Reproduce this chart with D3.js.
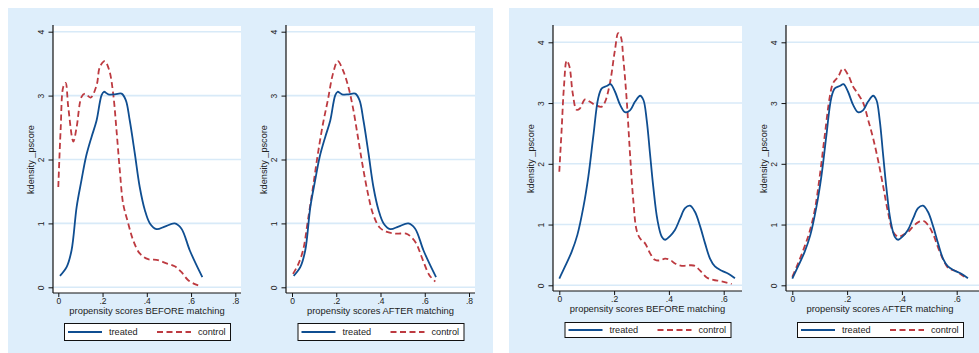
<html><head>
<style>
body { margin: 0; padding: 0; background: white; }
svg { display: block; font-family: 'Liberation Sans', Arial, sans-serif; }
</style>
</head>
<body>
<svg id="chart" width="979" height="353"></svg>
<script src="https://d3js.org/d3.v7.min.js"></script>
<script>
// kernel density of the propensity score
// model A (left panel)
const treatedA = [[0.0075,0.18],[0.038,0.32],[0.06,0.58],[0.083,1.26],[0.105,1.68],[0.125,2.04],[0.15,2.35],[0.173,2.61],[0.195,3.0],[0.206,3.06],[0.226,3.02],[0.256,3.02],[0.286,3.03],[0.305,2.93],[0.323,2.61],[0.346,2.09],[0.368,1.57],[0.391,1.21],[0.414,1.0],[0.444,0.91],[0.481,0.95],[0.526,1.0],[0.556,0.92],[0.594,0.58],[0.624,0.35],[0.651,0.16]];
const controlBeforeA = [[0.0,1.57],[0.0105,2.46],[0.0226,3.14],[0.033,3.2],[0.045,2.82],[0.068,2.28],[0.083,2.51],[0.105,2.98],[0.12,3.03],[0.146,2.97],[0.173,3.16],[0.188,3.45],[0.21,3.54],[0.23,3.4],[0.248,3.03],[0.263,2.46],[0.278,1.83],[0.293,1.31],[0.316,1.0],[0.338,0.74],[0.368,0.53],[0.406,0.44],[0.444,0.43],[0.489,0.375],[0.526,0.33],[0.556,0.24],[0.586,0.115],[0.617,0.05],[0.642,0.02]];
const controlAfterA = [[0.0045,0.21],[0.027,0.35],[0.05,0.58],[0.072,1.05],[0.095,1.57],[0.117,2.09],[0.14,2.56],[0.162,2.93],[0.185,3.34],[0.207,3.54],[0.23,3.4],[0.253,3.16],[0.275,2.82],[0.298,2.35],[0.32,1.89],[0.343,1.47],[0.365,1.16],[0.395,0.94],[0.426,0.87],[0.47,0.84],[0.516,0.84],[0.538,0.79],[0.561,0.69],[0.591,0.43],[0.621,0.19],[0.648,0.09]];
// model B (right panel)
const treatedB = [[0,0.11],[0.021,0.31],[0.045,0.55],[0.066,0.83],[0.088,1.29],[0.106,1.79],[0.124,2.45],[0.142,3.08],[0.155,3.24],[0.173,3.28],[0.187,3.31],[0.203,3.19],[0.222,2.97],[0.24,2.85],[0.258,2.88],[0.276,3.02],[0.295,3.12],[0.307,3.05],[0.319,2.72],[0.331,2.17],[0.343,1.62],[0.358,1.08],[0.374,0.8],[0.386,0.75],[0.404,0.81],[0.422,0.91],[0.441,1.1],[0.459,1.27],[0.477,1.31],[0.495,1.21],[0.514,0.97],[0.532,0.69],[0.55,0.44],[0.568,0.31],[0.593,0.24],[0.617,0.19],[0.641,0.115]];
const controlBeforeB = [[0,1.87],[0.0085,2.56],[0.017,3.27],[0.027,3.7],[0.037,3.6],[0.049,3.16],[0.063,2.89],[0.075,2.91],[0.094,3.06],[0.112,3.02],[0.13,2.97],[0.155,2.94],[0.167,3.02],[0.185,3.33],[0.203,3.87],[0.215,4.15],[0.224,4.1],[0.234,3.71],[0.246,3.05],[0.258,2.17],[0.27,1.4],[0.282,0.91],[0.295,0.77],[0.313,0.69],[0.331,0.53],[0.349,0.42],[0.368,0.41],[0.386,0.44],[0.404,0.42],[0.422,0.36],[0.447,0.32],[0.477,0.33],[0.495,0.32],[0.514,0.24],[0.538,0.13],[0.562,0.09],[0.587,0.07],[0.611,0.044],[0.629,0.022]];
const controlAfterB = [[0,0.14],[0.021,0.36],[0.045,0.64],[0.063,0.88],[0.082,1.24],[0.1,1.79],[0.118,2.45],[0.137,3.11],[0.149,3.33],[0.167,3.43],[0.185,3.57],[0.204,3.46],[0.222,3.27],[0.24,3.15],[0.259,3.0],[0.277,2.72],[0.295,2.42],[0.313,2.06],[0.332,1.62],[0.35,1.19],[0.368,0.88],[0.387,0.8],[0.405,0.83],[0.423,0.88],[0.441,0.97],[0.46,1.04],[0.478,1.06],[0.496,0.99],[0.515,0.83],[0.533,0.61],[0.551,0.42],[0.57,0.28],[0.594,0.24],[0.618,0.17],[0.637,0.115]];

const yTicks = [0, 1, 2, 3, 4];
const yTickLabels = ["0", "1", "2", "3", "4"];
const xTicksA = [0, 0.2, 0.4, 0.6, 0.8];
const xTicksB = [0, 0.2, 0.4, 0.6];
const xTickLabels = ["0", ".2", ".4", ".6", ".8"];
const seriesNames = ["treated", "control"];
const yTitle = "kdensity _pscore";
const xTitles = ["propensity scores BEFORE matching", "propensity scores AFTER matching"];

const blue = "#0f4e91", red = "#bd3a40";
const bg = "#deeefb", grid = "#d8eaf8";

const svg = d3.select("#chart");

// the two graph regions
svg.append("rect").attr("x", 8).attr("y", 8).attr("width", 485).attr("height", 345).attr("fill", bg);
svg.append("rect").attr("x", 509).attr("y", 8).attr("width", 470).attr("height", 345).attr("fill", bg);

// layout of the four plots
const plots = [
  {left: 53, right: 241, top: 26, bottom: 293, x0: 58.3, xu: 221.25, y0: 287.3, yu: 63.9, xt: xTicksA, title: xTitles[0], treated: treatedA, control: controlBeforeA, ly: 323, lh: 17},
  {left: 286, right: 475, top: 26, bottom: 293, x0: 292, xu: 221.25, y0: 287.3, yu: 63.9, xt: xTicksA, title: xTitles[1], treated: treatedA, control: controlAfterA, ly: 323, lh: 17},
  {left: 553, right: 742, top: 26, bottom: 291, x0: 559.3, xu: 274, y0: 285.3, yu: 60.75, xt: xTicksB, title: xTitles[0], treated: treatedB, control: controlBeforeB, ly: 322, lh: 15},
  {left: 786, right: 979, top: 26, bottom: 291, x0: 792.3, xu: 274, y0: 285.3, yu: 60.75, xt: xTicksB, title: xTitles[1], treated: treatedB, control: controlAfterB, ly: 322, lh: 15, cx: 880}
];

plots.forEach(p => {
  const g = svg.append("g");
  const x = d3.scaleLinear().domain([0, 1]).range([p.x0, p.x0 + p.xu]);
  const y = d3.scaleLinear().domain([0, 4]).range([p.y0, p.y0 - 4 * p.yu]);

  g.append("rect").attr("x", p.left).attr("y", p.top)
    .attr("width", p.right - p.left).attr("height", p.bottom - p.top).attr("fill", "white");

  g.selectAll(".grid").data(yTicks).join("line")
    .attr("x1", p.left).attr("x2", p.right)
    .attr("y1", d => y(d)).attr("y2", d => y(d))
    .attr("stroke", grid).attr("stroke-width", 1.6);

  const line = d3.line().x(d => x(d[0])).y(d => y(d[1])).curve(d3.curveCatmullRom.alpha(0.5));
  g.append("path").attr("d", line(p.control)).attr("fill", "none")
    .attr("stroke", red).attr("stroke-width", 1.8).attr("stroke-dasharray", "6,3.5");
  g.append("path").attr("d", line(p.treated)).attr("fill", "none")
    .attr("stroke", blue).attr("stroke-width", 1.8);

  // y axis
  const ya = g.append("g").attr("transform", `translate(${p.left},0)`)
    .call(d3.axisLeft(y).tickValues(yTicks).tickFormat((d, i) => yTickLabels[i]).tickSize(4.5).tickPadding(4));
  ya.select(".domain").attr("d", `M0,${p.top - 1}V${p.bottom}`).attr("stroke", "#111").attr("stroke-width", 1.2);
  ya.selectAll(".tick line").attr("stroke", "#111");
  ya.selectAll(".tick text")
    .attr("x", null).attr("dy", null)
    .attr("text-anchor", "middle").attr("font-size", 8.5).attr("fill", "#222")
    .attr("transform", "translate(-9.5,0) rotate(-90)");

  // x axis
  const xa = g.append("g").attr("transform", `translate(0,${p.bottom})`)
    .call(d3.axisBottom(x).tickValues(p.xt).tickFormat((d, i) => xTickLabels[i]).tickSize(4).tickPadding(1));
  xa.select(".domain").attr("d", `M${p.left},0H${p.right}`).attr("stroke", "#111").attr("stroke-width", 1.2);
  xa.selectAll(".tick line").attr("stroke", "#111");
  xa.selectAll(".tick text").attr("font-size", 8.5).attr("fill", "#222");

  const cx = p.cx || (p.left + p.right) / 2;
  g.append("text").attr("x", cx).attr("y", p.bottom + 21).attr("text-anchor", "middle")
    .attr("font-size", 9.4).attr("fill", "#222").text(p.title);
  g.append("text").attr("transform", `translate(${p.left - 19},${(p.top + p.bottom) / 2}) rotate(-90)`)
    .attr("text-anchor", "middle").attr("font-size", 9.2).attr("fill", "#222").text(yTitle);

  // legend
  const lw = 166, lh = p.lh;
  const lg = g.append("g").attr("transform", `translate(${cx - lw / 2},${p.ly})`);
  lg.append("rect").attr("x", 0.5).attr("y", 0.5).attr("width", lw).attr("height", lh)
    .attr("fill", "white").attr("stroke", "#111").attr("stroke-width", 1);
  const items = [{name: seriesNames[0], color: blue, dash: null, off: 4},
                 {name: seriesNames[1], color: red, dash: "6,3.5", off: 93}];
  items.forEach(it => {
    lg.append("line").attr("x1", it.off).attr("x2", it.off + 34)
      .attr("y1", lh / 2 + 0.5).attr("y2", lh / 2 + 0.5)
      .attr("stroke", it.color).attr("stroke-width", 1.8).attr("stroke-dasharray", it.dash);
    lg.append("text").attr("x", it.off + 41).attr("y", lh / 2 + 3.8)
      .attr("font-size", 9.2).attr("fill", "#222").text(it.name);
  });
});
</script>
</body>
</html>
